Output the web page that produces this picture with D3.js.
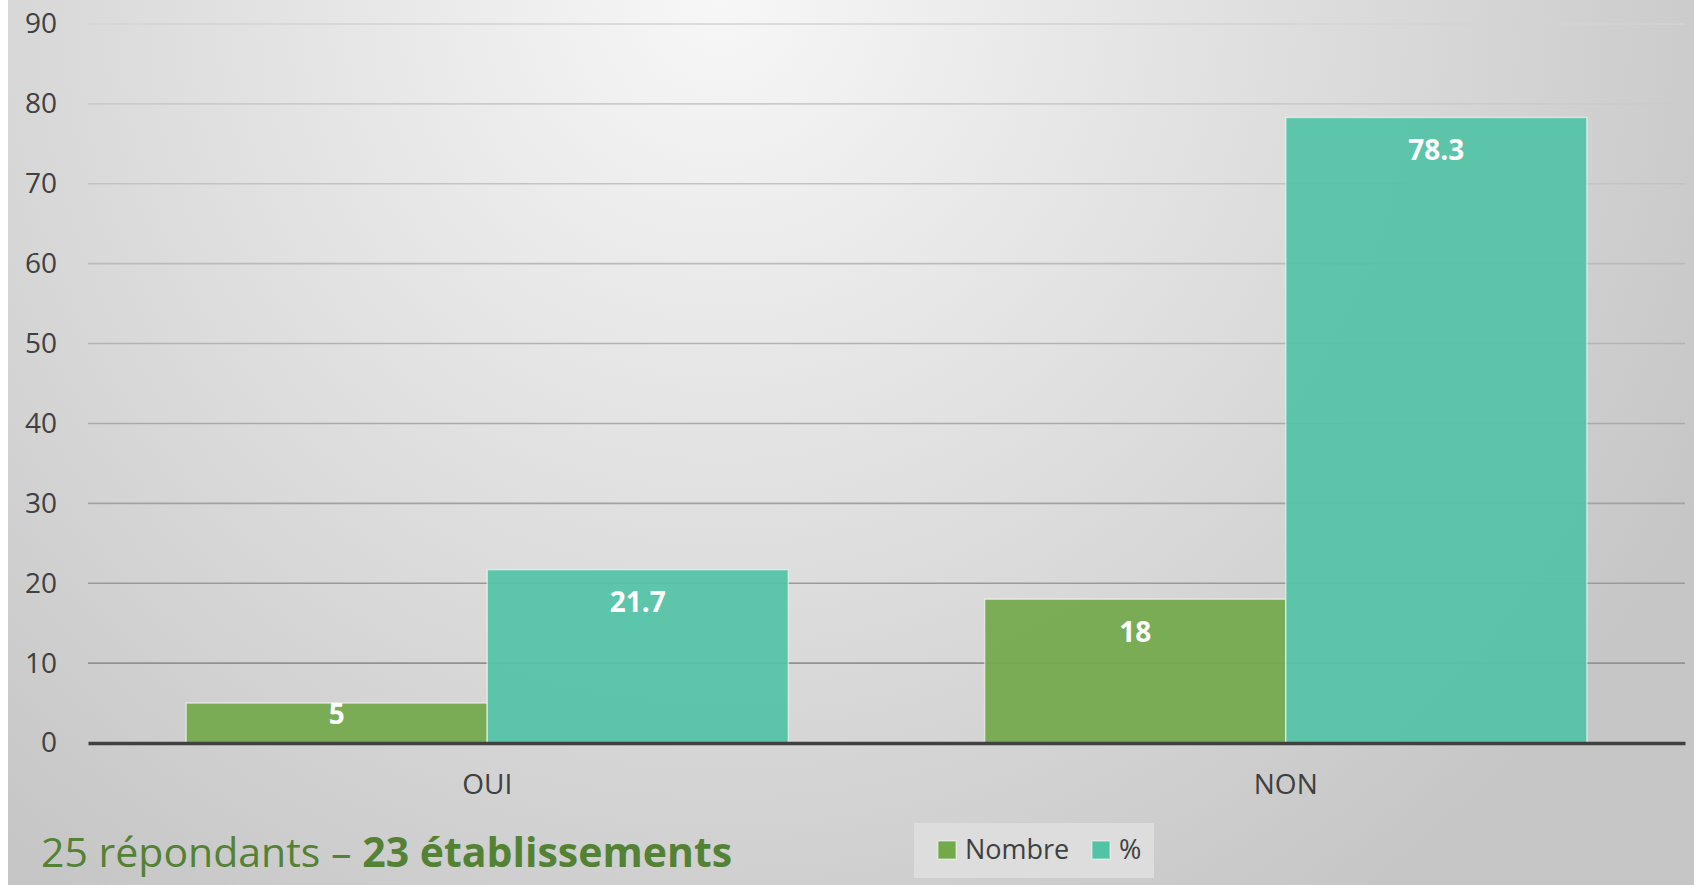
<!DOCTYPE html>
<html>
<head>
<meta charset="utf-8">
<script src="https://cdn.jsdelivr.net/npm/d3@7"></script>
<style>
  html, body { margin: 0; padding: 0; background: #fff; }
  svg { display: block; }
  text { font-family: 'Open Sans', sans-serif; }
</style>
</head>
<body>
<div id="chart"></div>
<script>
const width = 1694
const height = 885

// data
const categories = ['OUI', 'NON']
const seriesNames = ['Nombre', '%']
const nombreValues = [5, 18]
const percentValues = [21.7, 78.3]
const yTicks = [0, 10, 20, 30, 40, 50, 60, 70, 80, 90]
const footnoteRegular = '25 répondants – '
const footnoteBold = '23 établissements'

const colors = { 'Nombre': '#72a94b', '%': '#52c3a6' }

const margin = { top: 24, right: 9, bottom: 142, left: 88 }

const svg = d3.select('#chart')
    .append('svg')
    .attr('width', width)
    .attr('height', height)

const defs = svg.append('defs')
const grad = defs.append('radialGradient')
    .attr('id', 'bg')
    .attr('gradientUnits', 'userSpaceOnUse')
    .attr('cx', 720).attr('cy', 0)
    .attr('r', 1100)
grad.append('stop').attr('offset', '0%').attr('stop-color', '#f7f7f7')
grad.append('stop').attr('offset', '100%').attr('stop-color', '#c6c6c6')

svg.append('rect')
    .attr('x', 8).attr('y', 0)
    .attr('width', width - 8).attr('height', height)
    .attr('fill', 'url(#bg)')

const x0 = d3.scaleBand()
    .domain(categories)
    .range([margin.left, width - margin.right])

const x1 = d3.scaleBand()
    .domain(seriesNames)
    .range([0, x0.bandwidth()])
    .paddingOuter(0.326)

const y = d3.scaleLinear()
    .domain([0, 90])
    .range([height - margin.bottom, margin.top])

const gridColor = d3.scaleLinear()
    .domain([0, 90])
    .range(['#8a8a8a', '#d3d3d3'])

// gridlines
svg.append('g')
    .selectAll('line')
    .data(yTicks.filter(d => d > 0))
    .join('line')
    .attr('x1', margin.left)
    .attr('x2', width - margin.right)
    .attr('y1', d => y(d))
    .attr('y2', d => y(d))
    .attr('stroke', d => gridColor(d))
    .attr('stroke-width', 1.6)

// y axis labels
const yAxis = d3.axisLeft(y).tickValues(yTicks).tickSize(0).tickPadding(31)
const gy = svg.append('g')
    .attr('transform', `translate(${margin.left},0)`)
    .call(yAxis)
gy.select('.domain').remove()
gy.selectAll('text')
    .attr('font-size', 28)
    .attr('fill', '#404040')
    .attr('font-family', "'Open Sans', sans-serif")

const rows = categories.map((c, i) => ({
    category: c,
    values: [
        { series: 'Nombre', value: nombreValues[i] },
        { series: '%', value: percentValues[i] }
    ]
}))

const groups = svg.append('g')
    .selectAll('g')
    .data(rows)
    .join('g')
    .attr('transform', d => `translate(${x0(d.category)},0)`)

groups.selectAll('rect')
    .data(d => d.values)
    .join('rect')
    .attr('x', d => x1(d.series))
    .attr('y', d => y(d.value))
    .attr('width', x1.bandwidth())
    .attr('height', d => y(0) - y(d.value))
    .attr('fill', d => colors[d.series])
    .attr('fill-opacity', 0.93)
    .attr('stroke', 'rgba(255,255,255,0.55)')
    .attr('stroke-width', 1.5)

groups.selectAll('text.label')
    .data(d => d.values)
    .join('text')
    .attr('class', 'label')
    .attr('x', d => x1(d.series) + x1.bandwidth() / 2)
    .attr('y', d => {
        const h = y(0) - y(d.value)
        return y(d.value) + Math.min(33, h * 0.27)
    })
    .attr('dy', '0.35em')
    .attr('text-anchor', 'middle')
    .attr('font-size', 28)
    .attr('font-weight', 'bold')
    .attr('fill', '#ffffff')
    .text(d => d.value)

// x axis
const xAxis = d3.axisBottom(x0).tickSize(0).tickPadding(31)
const gx = svg.append('g')
    .attr('transform', `translate(0,${y(0)})`)
    .call(xAxis)
gx.select('.domain')
    .attr('stroke', '#404040')
    .attr('stroke-width', 3.5)
gx.selectAll('text')
    .attr('font-size', 28)
    .attr('fill', '#404040')
    .attr('font-family', "'Open Sans', sans-serif")

// legend
const legend = svg.append('g')
legend.append('rect')
    .attr('x', 914).attr('y', 823)
    .attr('width', 240).attr('height', 55)
    .attr('fill', '#dddddd')
const legendX = [938, 1092]
seriesNames.forEach((s, i) => {
    legend.append('rect')
        .attr('x', legendX[i]).attr('y', 841)
        .attr('width', 18).attr('height', 18)
        .attr('fill', colors[s])
        .attr('stroke', 'rgba(255,255,255,0.6)')
        .attr('stroke-width', 1)
    legend.append('text')
        .attr('x', legendX[i] + 27)
        .attr('y', 859)
        .attr('font-size', 27)
        .attr('fill', '#404040')
        .text(s)
})

// footnote
const foot = svg.append('text')
    .attr('x', 41)
    .attr('y', 867)
    .attr('font-size', 41)
    .attr('fill', '#548235')
foot.append('tspan').text(footnoteRegular)
foot.append('tspan').attr('font-weight', 'bold').text(footnoteBold)
</script>
</body>
</html>
